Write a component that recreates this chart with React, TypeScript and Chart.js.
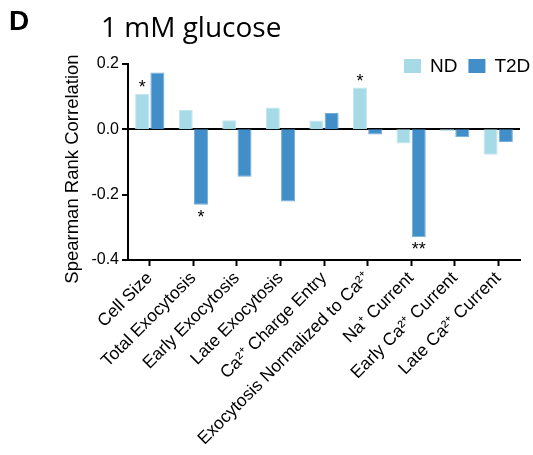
import React, { useEffect, useRef } from "react";
import { Chart, registerables } from "chart.js";

Chart.register(...registerables);

const categories = [
  "Cell Size",
  "Total Exocytosis",
  "Early Exocytosis",
  "Late Exocytosis",
  "Ca²⁺ Charge Entry",
  "Exocytosis Normalized to Ca²⁺",
  "Na⁺ Current",
  "Early Ca²⁺ Current",
  "Late Ca²⁺ Current",
];
const seriesNames = ["ND", "T2D"];
const ndValues = [0.109, 0.059, 0.028, 0.067, 0.027, 0.128, -0.043, -0.005, -0.078];
const t2dValues = [0.174, -0.231, -0.145, -0.221, 0.05, -0.016, -0.33, -0.024, -0.039];
const ndSignificance = ["*", "", "", "", "", "*", "", "", ""];
const t2dSignificance = ["", "*", "", "", "", "", "**", "", ""];
const yMin = -0.4;
const yMax = 0.2;
const yStep = 0.2;
const panelLetter = "D";
const chartTitle = "1 mM glucose";
const yAxisTitle = "Spearman Rank Correlation";

const ND_COLOR = "#a6dae6";
const T2D_COLOR = "#428ec9";
const AXIS_FONT = "'Liberation Sans', Arial, sans-serif";

const overlayPlugin = {
  id: "overlay",
  afterDatasetsDraw(chart: any) {
    const ctx = chart.ctx;
    const y = chart.scales.y;
    const sigs = [ndSignificance, t2dSignificance];
    ctx.save();
    ctx.fillStyle = "#000";
    ctx.font = `18px ${AXIS_FONT}`;
    ctx.textAlign = "center";
    ctx.textBaseline = "alphabetic";
    sigs.forEach((arr, di) => {
      const meta = chart.getDatasetMeta(di);
      const vals = chart.data.datasets[di].data as number[];
      arr.forEach((s, i) => {
        if (!s) return;
        const bar = meta.data[i];
        const v = vals[i];
        const py = y.getPixelForValue(v);
        if (v >= 0) ctx.fillText(s, bar.x, py - 1);
        else ctx.fillText(s, bar.x, py + 18);
      });
    });
    ctx.restore();
  },
  afterDraw(chart: any) {
    const ctx = chart.ctx;
    const area = chart.chartArea;
    ctx.save();
    ctx.fillStyle = "#000";
    ctx.textBaseline = "alphabetic";
    ctx.textAlign = "left";
    ctx.font = `bold 28px ${AXIS_FONT}`;
    ctx.fillText(panelLetter, 9, 30);
    ctx.font = "28px 'Open Sans', sans-serif";
    ctx.fillText(chartTitle, 101, 37);

    // y-axis title
    ctx.save();
    ctx.translate(73, 169);
    ctx.rotate(-Math.PI / 2);
    ctx.textAlign = "center";
    ctx.textBaseline = "middle";
    ctx.font = `18.5px ${AXIS_FONT}`;
    ctx.fillText(yAxisTitle, 0, 0);
    ctx.restore();

    // legend
    ctx.font = `19px ${AXIS_FONT}`;
    ctx.textBaseline = "middle";
    ctx.textAlign = "left";
    let x = area.right - 116;
    chart.data.datasets.forEach((ds: any) => {
      ctx.fillStyle = ds.backgroundColor;
      ctx.fillRect(x, 59, 17, 14);
      ctx.fillStyle = "#000";
      ctx.fillText(ds.label, x + 26, 67);
      x += 26 + ctx.measureText(ds.label).width + 11;
    });
    ctx.restore();
  },
};

export default function App() {
  const ref = useRef<HTMLCanvasElement | null>(null);
  useEffect(() => {
    if (!ref.current) return;
    const chart = new Chart(ref.current, {
      type: "bar",
      data: {
        labels: categories,
        datasets: [
          {
            label: seriesNames[0],
            data: ndValues,
            backgroundColor: ND_COLOR,
            borderColor: "#c3e6ee",
            borderWidth: 1,
            categoryPercentage: 0.7,
            barPercentage: 0.92,
          },
          {
            label: seriesNames[1],
            data: t2dValues,
            backgroundColor: T2D_COLOR,
            borderColor: "#74acd9",
            borderWidth: 1,
            categoryPercentage: 0.7,
            barPercentage: 0.92,
          },
        ],
      },
      options: {
        responsive: false,
        animation: false,
        devicePixelRatio: 1,
        layout: { padding: { left: 58, right: 13, top: 64, bottom: 0 } },
        plugins: {
          legend: { display: false },
          tooltip: { enabled: false },
          title: { display: false },
        },
        scales: {
          x: {
            offset: true,
            afterFit: (s: any) => {
              s.height = 195;
            },
            grid: {
              offset: false,
              drawOnChartArea: false,
              tickColor: "#000",
              tickWidth: 2,
              tickLength: 6,
            },
            border: { color: "#000", width: 2 },
            ticks: {
              minRotation: 45,
              maxRotation: 45,
              autoSkip: false,
              color: "#000",
              padding: 2,
              font: { family: AXIS_FONT, size: 17.5 },
            },
          },
          y: {
            min: yMin,
            max: yMax,
            afterFit: (s: any) => {
              s.width = 70;
            },
            grid: {
              color: (c: any) =>
                c.tick && Math.abs(c.tick.value) < 1e-9 ? "#000" : "rgba(0,0,0,0)",
              lineWidth: 2,
              tickColor: "#000",
              tickWidth: 2,
              tickLength: 6,
            },
            border: { color: "#000", width: 2 },
            ticks: {
              stepSize: yStep,
              color: "#000",
              padding: 3,
              font: { family: AXIS_FONT, size: 16 },
              callback: (v: any) => Number(v).toFixed(1),
            },
            title: { display: false },
          },
        },
      },
      plugins: [overlayPlugin],
    });
    return () => chart.destroy();
  }, []);
  return (
    <div style={{ position: "absolute", left: 0, top: 0, width: 533, height: 455, background: "#fff" }}>
      <canvas ref={ref} width={533} height={455} style={{ width: 533, height: 455 }} />
    </div>
  );
}
